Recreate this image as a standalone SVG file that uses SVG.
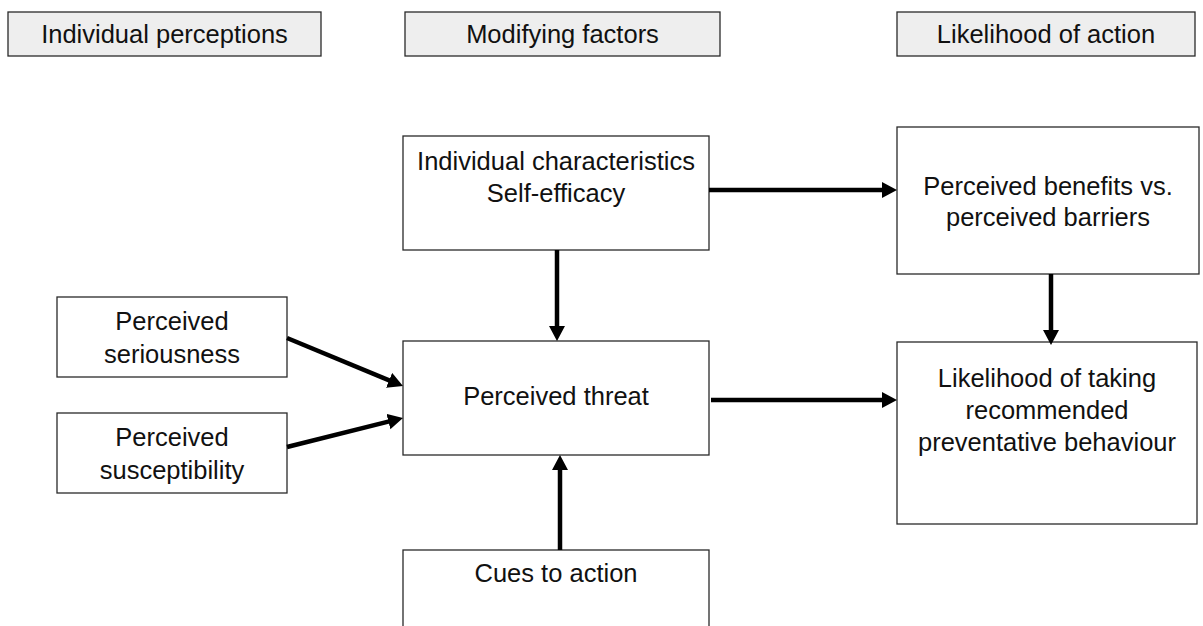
<svg xmlns="http://www.w3.org/2000/svg" width="1203" height="626" viewBox="0 0 1203 626">
<style>
.hdr{fill:#eeeeee;stroke:#2a2a2a;stroke-width:1.3}
.box{fill:#ffffff;stroke:#2a2a2a;stroke-width:1.3}
text{font-family:"Liberation Sans",Arial,sans-serif;font-size:25.5px;fill:#111;text-anchor:middle;dominant-baseline:central}
.conn line{stroke:#000;stroke-width:4.5;marker-end:url(#ah)}
</style>
<defs>
<marker id="ah" markerUnits="userSpaceOnUse" markerWidth="18" markerHeight="18" refX="4" refY="8" orient="auto">
<path d="M0,0 L15,8 L0,16 z" fill="#000"/>
</marker>
</defs>
<rect width="1203" height="626" fill="#fff"/>
<g id="hdr-individual"><rect class="hdr" x="8" y="12" width="313" height="44"/><text x="164.5" y="34">Individual perceptions</text></g>
<g id="hdr-modifying"><rect class="hdr" x="405" y="12" width="315" height="44"/><text x="562.5" y="34">Modifying factors</text></g>
<g id="hdr-likelihood"><rect class="hdr" x="897" y="12" width="298" height="44"/><text x="1046" y="34">Likelihood of action</text></g>
<g id="characteristics"><rect class="box" x="403" y="136" width="306" height="114"/><text x="556" y="161">Individual characteristics</text><text x="556" y="193">Self-efficacy</text></g>
<g id="benefits"><rect class="box" x="897" y="127" width="302" height="147"/><text x="1048" y="186">Perceived benefits vs.</text><text x="1048" y="217">perceived barriers</text></g>
<g id="seriousness"><rect class="box" x="57" y="297" width="230" height="80"/><text x="172" y="321">Perceived</text><text x="172" y="354">seriousness</text></g>
<g id="susceptibility"><rect class="box" x="57" y="413" width="230" height="80"/><text x="172" y="437">Perceived</text><text x="172" y="470">susceptibility</text></g>
<g id="threat"><rect class="box" x="403" y="341" width="306" height="114"/><text x="556" y="396">Perceived threat</text></g>
<g id="likelihood"><rect class="box" x="897" y="342" width="300" height="182"/><text x="1047" y="378">Likelihood of taking</text><text x="1047" y="410">recommended</text><text x="1047" y="442">preventative behaviour</text></g>
<g id="cues"><rect class="box" x="403" y="550" width="306" height="90"/><text x="556" y="573">Cues to action</text></g>
<g class="conn" id="connectors">
<line x1="709" y1="190" x2="886" y2="190"/>
<line x1="557" y1="250" x2="557" y2="330"/>
<line x1="1051" y1="274" x2="1051" y2="334"/>
<line x1="287" y1="338" x2="392.8" y2="381.8"/>
<line x1="287" y1="447" x2="392.3" y2="420.6"/>
<line x1="711" y1="400" x2="886" y2="400"/>
<line x1="560" y1="550" x2="560" y2="466"/>
</g>
</svg>
